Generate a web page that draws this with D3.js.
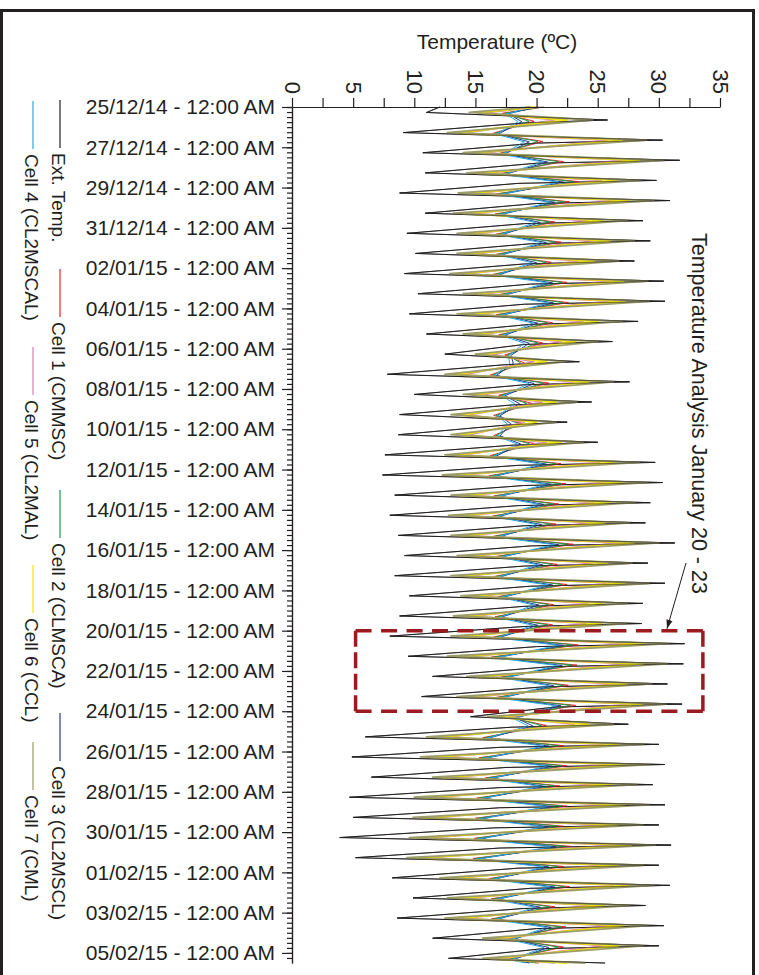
<!DOCTYPE html>
<html>
<head>
<meta charset="utf-8">
<script src="https://cdn.jsdelivr.net/npm/d3@7"></script>
<style>
body{margin:0;background:#fff;}
svg{display:block;font-family:"Liberation Sans",Arial,Helvetica,sans-serif;}
</style>
</head>
<body>
<svg id="chart" width="759" height="975"></svg>
<script>
// series names and colours (legend order)
var seriesNames=["Ext. Temp.","Cell 1 (CMMSC)","Cell 2 (CLMSCA)","Cell 3 (CL2MSCL)","Cell 4 (CL2MSCAL)","Cell 5 (CL2MAL)","Cell 6 (CCL)","Cell 7 (CML)"];
var seriesColors=["#231f20","#e8262b","#1a9b4b","#2b3990","#27aae1","#d67fb5","#f2e600","#9c9c68"];
var seriesWidths=[1,1,1,1,1,1.5,1.8,1.8];

// temperature axis ticks
var tempTicks=[0,5,10,15,20,25,30,35];
var tempMinorTicks=[0,2.5,5,7.5,10,12.5,15,17.5,20,22.5,25,27.5,30,32.5,35];

// hour of the daily minimum / maximum for each series
var minHour=[6.5,7.5,7.5,8,8.5,7,7,6.5];
var maxHour=[15.5,17,17,17.5,17.5,15.5,15.5,15.5];
// outside air drops fast after its peak, then cools slowly through the night
var extEveHour=19;

// value at 25/12/14 00:00 and at the last reading (05/02/15 12:00)
var seriesStart=[12.1,20.6,20.4,20.0,19.7,20.2,19.9,19.5];
var seriesEnd=[25.6,20.2,20.0,19.4,19.1,21.5,22.5,24.0];

// daily minima, 25/12/14 .. 05/02/15
var extMin=[11.0,9.1,10.7,10.9,8.8,10.9,9.4,10.1,9.2,10.3,9.6,11.0,12.5,7.8,10.0,8.8,8.7,7.6,7.4,8.4,8.0,8.7,9.2,8.4,9.6,8.8,8.0,9.5,11.5,10.6,14.6,6.0,4.9,6.5,4.7,5.0,3.9,5.2,8.2,9.9,8.6,11.5,12.8];
var cell1Min=[17.2,16.4,16.9,17.0,16.7,16.6,16.7,16.7,16.4,16.9,16.7,16.9,17.4,16.2,16.9,16.5,16.5,16.2,16.1,16.5,16.4,16.5,16.7,16.5,16.8,16.6,16.5,16.3,17.0,16.7,17.8,15.6,15.3,15.8,15.1,15.0,14.9,14.8,16.1,16.3,16.3,17.6,17.6];
var cell2Min=[17.4,16.6,17.1,17.2,16.9,16.8,16.9,16.9,16.6,17.1,16.9,17.1,17.6,16.4,17.1,16.7,16.7,16.4,16.3,16.7,16.6,16.7,16.9,16.7,17.0,16.8,16.7,16.5,17.2,16.9,18.0,15.8,15.5,16.0,15.3,15.2,15.1,15.0,16.3,16.5,16.5,17.8,17.8];
var cell3Min=[17.7,16.9,17.4,17.5,17.2,17.1,17.2,17.2,16.9,17.4,17.2,17.4,17.9,16.7,17.4,17.0,17.0,16.7,16.6,17.0,16.9,17.0,17.2,17.0,17.3,17.1,17.0,16.8,17.5,17.2,18.3,16.1,15.8,16.3,15.6,15.5,15.4,15.3,16.6,16.8,16.8,18.1,18.1];
var cell4Min=[17.5,16.7,17.2,17.3,17.0,16.9,17.0,17.0,16.7,17.2,17.0,17.2,17.7,16.5,17.2,16.8,16.8,16.5,16.4,16.8,16.7,16.8,17.0,16.8,17.1,16.9,16.8,16.6,17.3,17.0,18.1,15.9,15.6,16.1,15.4,15.3,15.2,15.1,16.4,16.6,16.6,17.9,17.9];
var cell5Min=[15.9,14.2,15.5,15.8,15.1,14.7,15.0,15.0,14.4,15.5,15.0,15.5,16.4,14.0,15.5,14.5,14.5,14.0,13.8,14.5,14.3,14.5,15.0,14.5,15.3,14.7,14.5,14.2,15.8,15.0,17.3,12.5,12.0,13.0,11.5,11.4,11.1,10.9,13.6,14.2,14.0,17.0,17.0];
var cell6Min=[15.2,13.5,14.8,15.1,14.4,14.0,14.3,14.3,13.7,14.8,14.3,14.8,15.7,13.3,14.8,13.8,13.8,13.3,13.1,13.8,13.6,13.8,14.3,13.8,14.6,14.0,13.8,13.5,15.1,14.3,16.7,11.8,11.3,12.3,10.8,10.7,10.4,10.2,12.9,13.5,13.3,16.3,16.3];
var cell7Min=[14.5,12.7,14.0,14.3,13.6,13.2,13.5,13.5,12.9,14.0,13.5,14.0,15.0,12.5,14.0,13.0,13.0,12.5,12.3,13.0,12.8,13.0,13.5,13.0,13.8,13.2,13.0,12.7,14.3,13.5,16.0,11.0,10.5,11.5,10.0,9.9,9.6,9.4,12.1,12.7,12.5,15.6,15.6];

// daily maxima, 25/12/14 .. 04/02/15
var extMax=[25.8,30.3,31.7,29.8,30.9,28.7,29.3,28.0,30.4,30.5,28.3,26.2,23.5,27.6,24.5,22.5,25.0,29.7,30.3,29.3,28.9,31.3,29.1,30.5,28.7,28.6,32.1,32.0,30.7,31.9,27.5,30.0,30.5,29.5,30.5,30.0,31.0,30.0,30.9,28.9,30.4,30.0];
var cell1Max=[19.8,20.5,22.2,23.5,22.7,21.5,22.0,21.2,22.5,22.6,21.3,20.5,19.0,21.0,19.6,18.8,19.8,22.0,22.4,21.8,21.6,23.0,21.7,22.5,21.4,21.3,23.4,23.3,22.6,23.2,20.8,22.2,22.5,21.9,22.5,22.2,22.8,22.2,22.7,21.5,22.4,22.2];
var cell2Max=[19.4,20.1,21.8,23.1,22.3,21.1,21.6,20.8,22.1,22.2,20.9,20.1,18.7,20.6,19.2,18.5,19.4,21.6,22.0,21.4,21.2,22.6,21.3,22.1,21.0,20.9,23.0,22.9,22.2,22.8,20.4,21.8,22.1,21.5,22.1,21.8,22.4,21.8,22.3,21.1,22.0,21.8];
var cell3Max=[18.8,19.4,20.9,22.2,21.5,20.3,20.8,20.0,21.3,21.4,20.1,19.4,18.1,19.8,18.6,17.9,18.7,20.8,21.2,20.6,20.4,21.8,20.5,21.3,20.2,20.1,22.2,22.1,21.4,22.0,19.7,21.0,21.3,20.7,21.3,21.0,21.6,21.0,21.5,20.3,21.2,21.0];
var cell4Max=[18.5,19.0,20.5,21.8,21.1,19.9,20.4,19.6,20.9,21.0,19.7,19.0,17.8,19.4,18.2,17.6,18.4,20.4,20.8,20.2,20.0,21.4,20.1,20.9,19.8,19.7,21.8,21.7,21.0,21.6,19.3,20.6,20.9,20.3,20.9,20.6,21.2,20.6,21.1,19.9,20.8,20.6];
var cell5Max=[21.5,25.8,27.2,25.3,26.4,24.2,24.8,23.5,25.9,26.0,23.8,22.0,19.8,23.1,20.5,19.0,20.8,25.2,25.8,24.8,24.4,26.8,24.6,26.0,24.2,24.1,27.6,27.5,26.2,27.4,23.1,25.5,26.0,25.0,26.0,25.5,26.5,25.5,26.3,24.4,25.9,25.5];
var cell6Max=[22.5,27.0,28.4,26.5,27.6,25.4,26.0,24.7,27.1,27.2,25.0,23.2,20.8,24.3,21.6,20.0,22.0,26.4,27.0,26.0,25.6,28.0,25.8,27.2,25.4,25.3,28.8,28.7,27.4,28.6,24.3,26.7,27.2,26.2,27.2,26.7,27.7,26.7,27.5,25.6,27.1,26.7];
var cell7Max=[24.6,29.0,30.4,28.5,29.6,27.4,28.0,26.7,29.1,29.2,27.0,25.0,22.4,26.3,23.3,21.6,23.8,28.4,29.0,28.0,27.6,30.0,27.8,29.2,27.4,27.3,30.8,30.7,29.4,30.6,26.3,28.7,29.2,28.2,29.2,28.7,29.7,28.7,29.6,27.6,29.1,28.7];

// outside temperature at 19:00, 25/12/14 .. 04/02/15
var extEve=[19.0,20.0,20.0,18.5,20.0,19.0,19.5,19.0,19.5,19.0,19.5,19.0,17.5,19.0,18.0,17.5,18.0,18.5,19.0,18.5,19.0,19.5,19.0,19.5,19.0,19.0,20.0,21.0,20.5,21.5,18.0,17.0,17.5,17.0,17.0,16.5,17.0,18.5,19.5,19.0,20.0,20.5];

var seriesMins=[extMin,cell1Min,cell2Min,cell3Min,cell4Min,cell5Min,cell6Min,cell7Min];
var seriesMaxs=[extMax,cell1Max,cell2Max,cell3Max,cell4Max,cell5Max,cell6Max,cell7Max];

// highlighted period and its note
var highlightDates=[new Date(Date.UTC(2015,0,20)),new Date(Date.UTC(2015,0,24))];
var highlightTemps=[5.2,33.6];
var noteText="Temperature Analysis January 20 - 23";

var svg=d3.select("#chart");
var ink="#231f20";

var x=d3.scaleLinear().domain([0,35]).range([292,720]);
var y=d3.scaleUtc()
	.domain([new Date(Date.UTC(2014,11,25)),new Date(Date.UTC(2015,1,5,12))])
	.range([107,963]);

function dayTime(day,hour){
	return new Date(Date.UTC(2014,11,25+day)+hour*3600000);
}

function buildSeries(i){
	var pts=[{t:y.domain()[0],v:seriesStart[i]}];
	var mins=seriesMins[i],maxs=seriesMaxs[i];
	for(var d=0;d<mins.length;d++){
		pts.push({t:dayTime(d,minHour[i]),v:mins[d]});
		if(d<maxs.length) pts.push({t:dayTime(d,maxHour[i]),v:maxs[d]});
		if(i===0 && d<extEve.length) pts.push({t:dayTime(d,extEveHour),v:extEve[d]});
	}
	pts.push({t:y.domain()[1],v:seriesEnd[i]});
	return pts;
}

// outer frame
svg.append("rect").attr("x",1.5).attr("y",10.5).attr("width",752).attr("height",1000)
	.attr("fill","none").attr("stroke",ink).attr("stroke-width",3);

// lines
var line=d3.line().x(function(d){return x(d.v);}).y(function(d){return y(d.t);});
var gLines=svg.append("g");
seriesNames.forEach(function(name,i){
	gLines.append("path")
		.datum(buildSeries(i))
		.attr("d",line)
		.attr("fill","none")
		.attr("stroke",seriesColors[i])
		.attr("stroke-width",seriesWidths[i])
		.attr("stroke-linejoin","round");
});
// outside temperature drawn again thinly on top so its spikes stay visible
gLines.append("path").datum(buildSeries(0)).attr("d",line)
	.attr("fill","none").attr("stroke",ink).attr("stroke-width",0.8).attr("stroke-opacity",0.7);

// temperature axis (top)
var tempAxis=d3.axisTop(x).tickValues(tempMinorTicks).tickSize(9).tickSizeOuter(0)
	.tickFormat(function(d){return tempTicks.indexOf(d)>=0?d:"";});
var gT=svg.append("g").attr("transform","translate(0,107)").call(tempAxis);
gT.selectAll("text")
	.attr("transform","rotate(90)")
	.attr("x",-13).attr("y",8).attr("dy",null)
	.attr("text-anchor","end")
	.style("font-size","22px").style("font-family","inherit").attr("fill",ink);

svg.append("text").attr("x",497).attr("y",49).attr("text-anchor","middle")
	.style("font-size","21px").attr("fill",ink).text("Temperature (ºC)");

// date axis (left)
var dateTicks=d3.utcDay.range(y.domain()[0],y.domain()[1]).filter(function(d,i){return i%2===0;});
var dateFmt=d3.utcFormat("%d/%m/%y - 12:00 AM");
var gMinor=svg.append("g").attr("transform","translate(292,0)")
	.call(d3.axisLeft(y).tickValues(d3.utcHour.every(6).range(y.domain()[0],y.domain()[1])).tickSize(5).tickSizeOuter(0).tickFormat(""));
var gD=svg.append("g").attr("transform","translate(292,0)")
	.call(d3.axisLeft(y).tickValues(dateTicks).tickSize(10).tickSizeOuter(0).tickPadding(7).tickFormat(dateFmt));
gD.selectAll("text").style("font-size","21px").style("font-family","inherit").attr("fill",ink);

[gT,gMinor,gD].forEach(function(g){
	g.selectAll("line").attr("stroke",ink).attr("stroke-width",1.2);
	g.select(".domain").attr("stroke",ink).attr("stroke-width",1.2);
});

// legend: two rotated columns, each entry a 48px sample line then its label
var legendCols=[{x:60,items:[0,1,2,3],tops:[100,269,490,713]},{x:33,items:[4,5,6,7],tops:[101,347,565,742]}];
legendCols.forEach(function(col){
	col.items.forEach(function(i,k){
		var top=col.tops[k];
		svg.append("line").attr("x1",col.x).attr("x2",col.x).attr("y1",top).attr("y2",top+48)
			.attr("stroke",seriesColors[i]).attr("stroke-width",1.2);
		svg.append("text")
			.attr("transform","translate("+(col.x-8)+","+(top+53)+") rotate(90)")
			.style("font-size","19px").attr("fill",ink).text(seriesNames[i]);
	});
});

// highlight box for January 20 - 23
var bx0=x(highlightTemps[0]),bx1=x(highlightTemps[1]);
var by0=y(highlightDates[0]),by1=y(highlightDates[1]);
var sides=[[bx0,by0,bx1,by0],[bx1,by0,bx1,by1],[bx1,by1,bx0,by1],[bx0,by1,bx0,by0]];
sides.forEach(function(s){
	var len=Math.hypot(s[2]-s[0],s[3]-s[1]);
	var dash=16,n=Math.max(2,Math.round((len+8)/25));
	var gap=(len-n*dash)/(n-1);
	svg.append("line").attr("x1",s[0]).attr("y1",s[1]).attr("x2",s[2]).attr("y2",s[3])
		.attr("stroke","#9b1b1f").attr("stroke-width",3.5)
		.attr("stroke-dasharray",dash+","+gap);
});

// note and arrow
svg.append("defs").append("marker").attr("id","arrow")
	.attr("viewBox","0 0 10 10").attr("refX",10).attr("refY",5)
	.attr("markerWidth",9).attr("markerHeight",9).attr("orient","auto")
	.append("path").attr("d","M0,1.5L10,5L0,8.5Z").attr("fill",ink);
svg.append("line").attr("x1",686).attr("y1",563).attr("x2",667).attr("y2",by0-2)
	.attr("stroke",ink).attr("stroke-width",1).attr("marker-end","url(#arrow)");
svg.append("text").attr("transform","translate(692,233) rotate(90)")
	.style("font-size","21.5px").attr("fill",ink).text(noteText);
</script>
</body>
</html>
